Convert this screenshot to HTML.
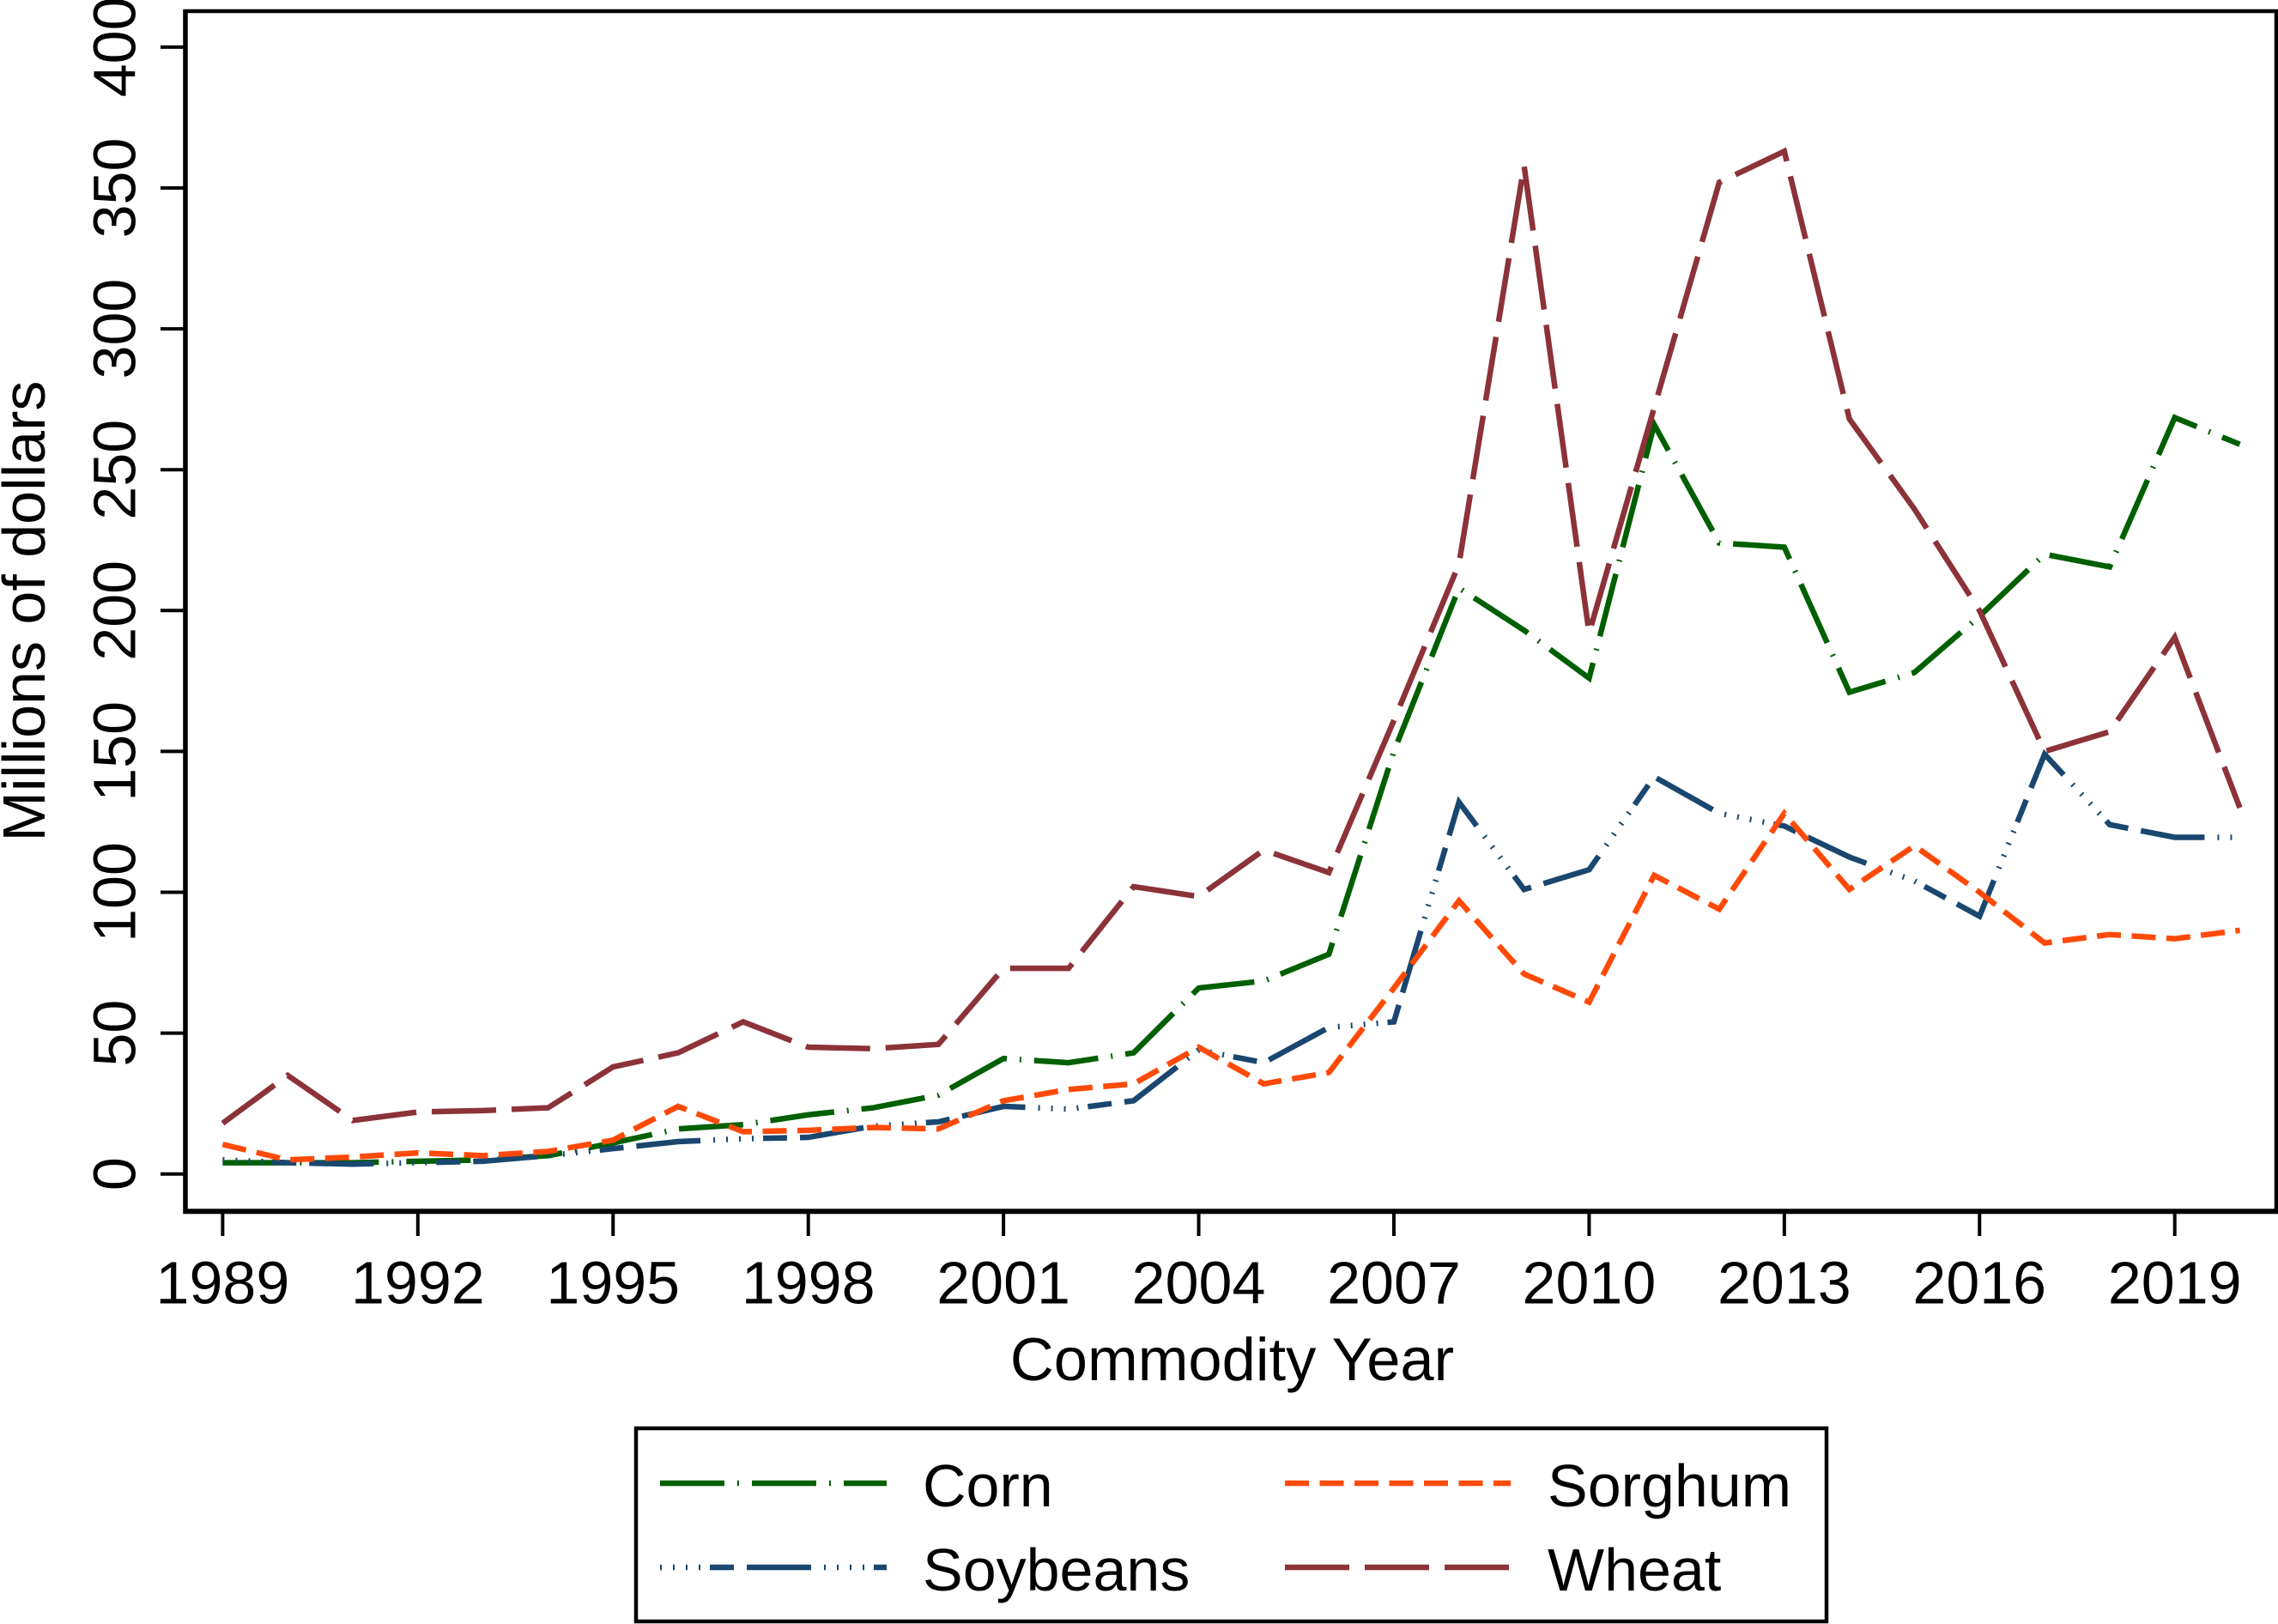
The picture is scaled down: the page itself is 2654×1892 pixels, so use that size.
<!DOCTYPE html>
<html lang="en">
<head>
<meta charset="utf-8">
<title>Commodity payments chart</title>
<style>
html,body{margin:0;padding:0;background:#fff;width:2654px;height:1892px;overflow:hidden}
svg{display:block}
text{font-family:"Liberation Sans",Arial,sans-serif;fill:#000;font-size:70px}
</style>
</head>
<body>
<svg id="chart" xmlns="http://www.w3.org/2000/svg" width="2654" height="1892" viewBox="0 0 2654 1892">
  <rect x="0" y="0" width="2654" height="1892" fill="#fff"/>
  <g id="ticks"></g>
  <g id="series" fill="none" stroke-linejoin="miter" stroke-linecap="butt"></g>
  <line x1="216" y1="11" x2="216" y2="1414" stroke="#000" stroke-width="5.5"/>
  <line x1="213.5" y1="1411.3" x2="2654" y2="1411.3" stroke="#000" stroke-width="6"/>
  <line x1="213.5" y1="13" x2="2654" y2="13" stroke="#000" stroke-width="4.5"/>
  <line x1="2652" y1="11" x2="2652" y2="1413" stroke="#000" stroke-width="4.5"/>
  <text x="1435.5" y="1608" text-anchor="middle" style="font-size:70.5px">Commodity Year</text>
  <text transform="translate(52 712) rotate(-90)" text-anchor="middle">Millions of dollars</text>
  <g>
    <rect x="741" y="1664" width="1387" height="225" fill="#fff" stroke="#000" stroke-width="4.5"/>
    <line x1="769" y1="1728" x2="1033" y2="1728" stroke="#005f00" stroke-width="6.5" stroke-dasharray="75 15 2 15"/>
    <text x="1075" y="1755">Corn</text>
    <line x1="769" y1="1826" x2="1033" y2="1826" stroke="#1a476f" stroke-width="6.5" stroke-dasharray="2 13 2 13 2 13 2 11 28 15 75 15"/>
    <text x="1075" y="1853">Soybeans</text>
    <line x1="1497" y1="1728" x2="1760" y2="1728" stroke="#ff4a08" stroke-width="6.5" stroke-dasharray="28 12.5"/>
    <text x="1803" y="1755">Sorghum</text>
    <line x1="1497" y1="1826" x2="1760" y2="1826" stroke="#8c3239" stroke-width="6.5" stroke-dasharray="75 18"/>
    <text x="1803" y="1853">Wheat</text>
  </g>
</svg>
<script>
const years = [1989,1990,1991,1992,1993,1994,1995,1996,1997,1998,1999,2000,2001,2002,2003,2004,2005,2006,2007,2008,2009,2010,2011,2012,2013,2014,2015,2016,2017,2018,2019,2020];
const xTickLabels = [1989,1992,1995,1998,2001,2004,2007,2010,2013,2016,2019];
const yTickLabels = [0,50,100,150,200,250,300,350,400];
const corn = [4,4,4,4.5,5,6.5,11,16,17.5,21,23.5,28,41,39.5,43,66,68.5,78,150,208,193,176,266,224,222.5,171,178,198,220,215.5,268.5,259];
const soybeans = [5,4,3.5,4,4.5,6.5,9,11.5,12.5,13,17,18.5,24,23,26,44,39.5,52,54,132,101,108,141,128,123.5,112.5,104,91.5,149,124,119.5,119.5];
const sorghum = [10.5,5,6,7.5,6.5,8,12,24,15,15.5,16.5,16,26,30,32,45,32,36,66,97,71,61,106,94,128,101,116.5,100,82,85,83.5,86.5];
const wheat = [18,35,19,22,22.5,23.5,38,43,54,45,44.5,46,73,73,102,98.5,115,107,161,216.5,358,192,272,352,363,268,236,200,150,157,190.5,130];

const svgNS = 'http://www.w3.org/2000/svg';
function xScale(year){ return 259.4 + (year - 1989) * 75.81; }
function yScale(value){ return 1367.7 - value * 3.282; }

const seriesLayer = document.getElementById('series');
const ticksLayer = document.getElementById('ticks');

function drawSeries(name, values, color, dash, width){
  const line = document.createElementNS(svgNS, 'polyline');
  line.setAttribute('points', values.map(function(v, i){ return xScale(years[i]).toFixed(2) + ',' + yScale(v).toFixed(2); }).join(' '));
  line.setAttribute('stroke', color);
  line.setAttribute('stroke-width', width);
  line.setAttribute('stroke-dasharray', dash);
  
  
  seriesLayer.appendChild(line);
}
drawSeries('corn', corn, '#005f00', '75 15 2 15', 6.5);
drawSeries('soybeans', soybeans, '#1a476f', '2 13 2 13 2 13 2 11 28 15 75 15', 6.5);
drawSeries('sorghum', sorghum, '#ff4a08', '28 12.5', 6.5);
drawSeries('wheat', wheat, '#8c3239', '75 18', 6.5);

xTickLabels.forEach(function(label){
  const x = xScale(label);
  const tick = document.createElementNS(svgNS, 'line');
  tick.setAttribute('x1', x);
  tick.setAttribute('x2', x);
  tick.setAttribute('y1', 1411);
  tick.setAttribute('y2', 1440);
  tick.setAttribute('stroke', '#000');
  tick.setAttribute('stroke-width', 4);
  
  
  ticksLayer.appendChild(tick);
  const text = document.createElementNS(svgNS, 'text');
  text.setAttribute('x', x);
  text.setAttribute('y', 1518.5);
  text.setAttribute('text-anchor', 'middle');
  text.textContent = label;
  
  
  ticksLayer.appendChild(text);
});

yTickLabels.forEach(function(label){
  const y = yScale(label);
  const tick = document.createElementNS(svgNS, 'line');
  tick.setAttribute('x1', 187);
  tick.setAttribute('x2', 216);
  tick.setAttribute('y1', y);
  tick.setAttribute('y2', y);
  tick.setAttribute('stroke', '#000');
  tick.setAttribute('stroke-width', 4);
  
  
  ticksLayer.appendChild(tick);
  const text = document.createElementNS(svgNS, 'text');
  text.setAttribute('transform', 'translate(157.5 ' + y + ') rotate(-90)');
  text.setAttribute('text-anchor', 'middle');
  text.textContent = label;
  
  
  ticksLayer.appendChild(text);
});
</script>
</body>
</html>
